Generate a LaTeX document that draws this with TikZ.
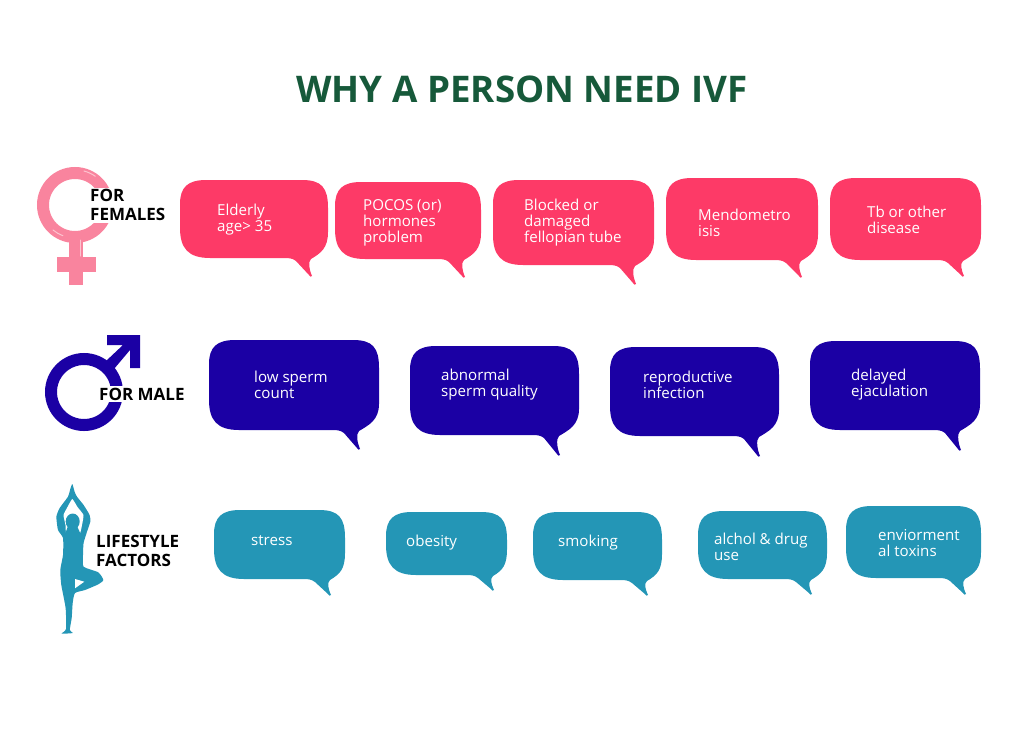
\documentclass[tikz,border=0pt]{standalone}
\usepackage{fontspec}
\setmainfont{Open Sans}
\definecolor{rosepink}{HTML}{FD3A67}
\definecolor{symbolpink}{HTML}{F9849E}
\definecolor{glosspink}{HTML}{FDC3CF}
\definecolor{deepblue}{HTML}{1B00A4}
\definecolor{seateal}{HTML}{2496B6}
\definecolor{titlegreen}{HTML}{16593A}
\tikzset{
  sayfemale/.style={fill=rosepink},
  saymale/.style={fill=deepblue},
  saylife/.style={fill=seateal},
  saytext/.style={anchor=west,align=left,text=white,inner sep=0pt,font=\fontsize{15.1}{16}\selectfont},
  grouplabel/.style={anchor=west,align=left,inner sep=2pt,fill=white,font=\fontsize{17}{18.5}\selectfont\bfseries}
}
% speech bubble: style, left, top, right, bottom, tip x, tip y
\newcommand{\speech}[7]{
  \fill[#1] ({#2+26},#3) -- ({#4-26},#3)
    .. controls ({#4-6},#3) and (#4,{#3+8}) .. (#4,{#3+28})
    -- (#4,{#5-26})
    .. controls (#4,{#5-10}) and ({#6+9},{#5-5}) .. ({#6-1},{#5+1})
    .. controls ({#6-4},{#5+4}) and ({#6-3},{#7-7}) .. (#6,#7)
    .. controls ({#6-1},{#7+1}) and ({#6-2},{#7+1}) .. ({#6-3},{#7-1})
    -- ({#6-16},{#5+3})
    .. controls ({#6-20},#5) and ({#6-23},#5) .. ({#6-29},#5)
    -- ({#2+30},#5)
    .. controls ({#2+8},#5) and (#2,{#5-10}) .. (#2,{#5-30})
    -- (#2,{#3+24})
    .. controls (#2,{#3+7}) and ({#2+8},#3) .. ({#2+26},#3) -- cycle;
}
\begin{document}
\begin{tikzpicture}[x=1pt,y=-1pt]
  \useasboundingbox (0,0) rectangle (1024,731);
  \node (title) at (522,89) [text=titlegreen,inner sep=0pt,font=\fontsize{36.7}{40}\selectfont\bfseries] {WHY A PERSON NEED IVF};

  % female symbol
  \draw[symbolpink,line width=12pt] (75,205) circle (32);
  \fill[symbolpink] (69,235) rectangle (83,285);
  \fill[symbolpink] (57,257) rectangle (96,272);
  \draw[glosspink,line width=1pt,line cap=round] (84,171) arc (-75:-55:36);
  \draw[glosspink,line width=1pt,line cap=round] (53,230) arc (130:110:33);
  \draw[glosspink,line width=1pt,line cap=round] (80,240) -- (80,256);
  \node (female) at (88,205) [grouplabel] {FOR\\FEMALES};

  % male symbol
  \draw[deepblue,line width=12pt] (84,392) circle (33);
  \fill[deepblue] (107,335) -- (140,335) -- (140,368) -- (130,368) -- (130,350) -- (114,369) -- (106,361) -- (123,345) -- (107,345) -- cycle;
  \node (male) at (97,394) [grouplabel] {FOR MALE};

  % yoga figure
  \fill[seateal] plot[smooth cycle,tension=.35] coordinates {(72.3,484) (74.6,491.7) (77,496.7) (83.6,505) (89.6,515) (90.3,521.7) (87,531.7) (83.6,543) (83,555) (83.6,566.7) (98.3,572.3) (103.3,580) (98.3,584.3) (85,590) (75,593) (72.7,603) (71.7,618) (69.8,630) (72.7,633) (61.7,633.5) (66,629) (65.6,608) (61.3,585) (60.3,570) (63,555) (63,538) (58,530) (56.4,516.7) (59.7,508) (68,496.7) (70,490)};
  \fill[white] plot[smooth cycle,tension=.25] coordinates {(72.3,499) (77.5,507) (83.5,515) (82,525) (79.5,534) (66.5,534) (65.5,525) (63.5,515) (67.5,507)};
  \fill[seateal] (72.7,521.5) ellipse (7 and 8);
  \fill[seateal] (68,526) -- (77,526) -- (82,537) -- (64,537) -- cycle;
  \fill[white] (75,579) -- (84.3,581.7) -- (75,588.3) -- cycle;
  \node (life) at (94,551) [grouplabel,fill=none] {LIFESTYLE\\FACTORS};

  % first row
  \speech{sayfemale}{180}{180}{328}{258}{312}{276}
  \speech{sayfemale}{335}{182}{481}{259}{465}{277}
  \speech{sayfemale}{493}{180}{654}{265}{636}{284}
  \speech{sayfemale}{666}{178}{818}{260}{802}{277}
  \speech{sayfemale}{830}{178}{981}{260}{964}{276}
  \node (f1) at (217,219.5) [saytext] {Elderly\\age> 35};
  \node (f2) at (363,222.5) [saytext] {POCOS (or)\\hormones\\problem};
  \node (f3) at (524,222.5) [saytext] {Blocked or\\damaged\\fellopian tube};
  \node (f4) at (698,222.5) [saytext] {Mendometro\\isis};
  \node (f5) at (867,219.5) [saytext] {Tb or other\\disease};

  % second row
  \speech{saymale}{209}{340}{379}{430}{360}{449}
  \speech{saymale}{410}{346}{579}{435}{560}{455}
  \speech{saymale}{610}{347}{779}{436}{760}{456}
  \speech{saymale}{810}{341}{980}{430}{961}{450}
  \node (m1) at (254,385) [saytext] {low sperm\\count};
  \node (m2) at (441,385) [saytext] {abnormal\\sperm quality};
  \node (m3) at (643,385) [saytext] {reproductive\\infection};
  \node (m4) at (851,385) [saytext] {delayed\\ejaculation};

  % third row
  \speech{saylife}{214}{510}{345}{579}{331}{595}
  \speech{saylife}{386}{512}{507}{575}{494}{590}
  \speech{saylife}{533}{512}{662}{580}{648}{595}
  \speech{saylife}{698}{511}{827}{579}{812}{594}
  \speech{saylife}{846}{506}{981}{578}{966}{594}
  \node (l1) at (251,541) [saytext] {stress};
  \node (l2) at (406,543) [saytext] {obesity};
  \node (l3) at (558,543) [saytext] {smoking};
  \node (l4) at (714,547) [saytext] {alchol \& drug\\use};
  \node (l5) at (878,543) [saytext] {enviorment\\al toxins};
\end{tikzpicture}
\end{document}
